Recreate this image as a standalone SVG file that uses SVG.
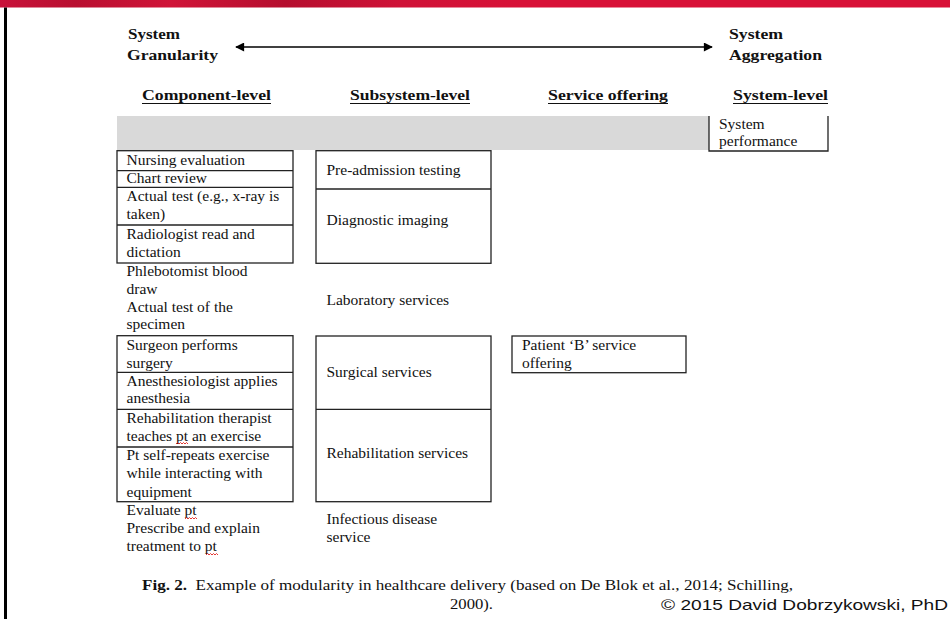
<svg xmlns="http://www.w3.org/2000/svg" width="950" height="619" viewBox="0 0 950 619">
  <defs>
    <linearGradient id="banner" x1="0" y1="0" x2="1" y2="0">
      <stop offset="0" stop-color="#c8123a"/>
      <stop offset="0.08" stop-color="#b90f30"/>
      <stop offset="0.18" stop-color="#d01438"/>
      <stop offset="0.3" stop-color="#b50e2e"/>
      <stop offset="0.42" stop-color="#cf1237"/>
      <stop offset="0.55" stop-color="#d81137"/>
      <stop offset="1" stop-color="#d81137"/>
    </linearGradient>
    <marker id="head" viewBox="0 0 10 10" refX="9" refY="5" markerWidth="10" markerHeight="9" markerUnits="userSpaceOnUse" orient="auto-start-reverse">
      <path d="M0,0 L10,5 L0,10 Z" fill="#000"/>
    </marker>
    <style>
      .t { font-family: "Liberation Serif", "Times New Roman", serif; font-size: 15.5px; fill: #111; }
      .h { font-family: "Liberation Serif", "Times New Roman", serif; font-size: 15.5px; font-weight: bold; fill: #111; }
      .u { stroke: #111; stroke-width: 1.2; }
      .box { fill: none; stroke: #222; stroke-width: 1.3; }
      .sep { stroke: #222; stroke-width: 1.3; }
      .squig { fill: none; stroke: #e0201c; stroke-width: 0.9; }
      .cap { font-family: "Liberation Serif", "Times New Roman", serif; font-size: 14.5px; fill: #111; }
    </style>
  </defs>

  <rect width="950" height="619" fill="#fff"/>
  <!-- top banner and left rule -->
  <rect x="0" y="0" width="950" height="7.5" fill="url(#banner)"/>
  <rect x="4" y="7.5" width="3" height="612" fill="#000"/>

  <!-- scale axis labels -->
  <g id="granularity">
    <text class="h" x="128" y="38.5" textLength="52" lengthAdjust="spacingAndGlyphs">System</text>
    <text class="h" x="127" y="60" textLength="91" lengthAdjust="spacingAndGlyphs">Granularity</text>
  </g>
  <g id="aggregation">
    <text class="h" x="729" y="38.5" textLength="54" lengthAdjust="spacingAndGlyphs">System</text>
    <text class="h" x="729" y="60" textLength="93" lengthAdjust="spacingAndGlyphs">Aggregation</text>
  </g>

  <g id="connectors">
    <line x1="236" y1="47" x2="712" y2="47" stroke="#000" stroke-width="1.5" marker-start="url(#head)" marker-end="url(#head)"/>
  </g>

  <!-- column headings -->
  <g id="col-headers">
    <text class="h" x="142" y="100" textLength="129" lengthAdjust="spacingAndGlyphs">Component-level</text>
    <line class="u" x1="142" y1="103.5" x2="271" y2="103.5"/>
    <text class="h" x="350" y="100" textLength="120" lengthAdjust="spacingAndGlyphs">Subsystem-level</text>
    <line class="u" x1="350" y1="103.5" x2="470" y2="103.5"/>
    <text class="h" x="548" y="100" textLength="120" lengthAdjust="spacingAndGlyphs">Service offering</text>
    <line class="u" x1="548" y1="103.5" x2="668" y2="103.5"/>
    <text class="h" x="733" y="100" textLength="95" lengthAdjust="spacingAndGlyphs">System-level</text>
    <line class="u" x1="733" y1="103.5" x2="828" y2="103.5"/>
  </g>

  <!-- shaded band -->
  <rect x="117" y="116" width="592" height="34" fill="#d9d9d9"/>

  <g id="system-performance">
    <path class="box" d="M709,116 V151 H828 V116"/>
    <text class="t" x="719" y="128.5">System</text>
    <text class="t" x="719" y="146">performance</text>
  </g>

  <!-- component-level: diagnostics block -->
  <g id="components-diagnostics">
    <rect class="box" x="117" y="150.7" width="176" height="112.3"/>
    <line class="sep" x1="117" y1="170.7" x2="293" y2="170.7"/>
    <line class="sep" x1="117" y1="187.3" x2="293" y2="187.3"/>
    <line class="sep" x1="117" y1="225" x2="293" y2="225"/>
    <text class="t" x="126.5" y="165">Nursing evaluation</text>
    <text class="t" x="126.5" y="183">Chart review</text>
    <text class="t" x="126.5" y="200.7">Actual test (e.g., x-ray is</text>
    <text class="t" x="126.5" y="218.5">taken)</text>
    <text class="t" x="126.5" y="238.5">Radiologist read and</text>
    <text class="t" x="126.5" y="256.5">dictation</text>
  </g>

  <g id="components-lab">
    <text class="t" x="126.5" y="276">Phlebotomist blood</text>
    <text class="t" x="126.5" y="293.7">draw</text>
    <text class="t" x="126.5" y="311.7">Actual test of the</text>
    <text class="t" x="126.5" y="329.3">specimen</text>
  </g>

  <!-- component-level: surgical / rehab block -->
  <g id="components-surgical">
    <rect class="box" x="117" y="335.7" width="176" height="166"/>
    <line class="sep" x1="117" y1="372.3" x2="293" y2="372.3"/>
    <line class="sep" x1="117" y1="409.3" x2="293" y2="409.3"/>
    <line class="sep" x1="117" y1="447" x2="293" y2="447"/>
    <text class="t" x="126.5" y="350">Surgeon performs</text>
    <text class="t" x="126.5" y="367.7">surgery</text>
    <text class="t" x="126.5" y="385.7">Anesthesiologist applies</text>
    <text class="t" x="126.5" y="403.3">anesthesia</text>
    <text class="t" x="126.5" y="422.7">Rehabilitation therapist</text>
    <text class="t" x="126.5" y="440.7">teaches pt an exercise</text>
    <text class="t" x="126.5" y="460">Pt self-repeats exercise</text>
    <text class="t" x="126.5" y="478.3">while interacting with</text>
    <text class="t" x="126.5" y="496.7">equipment</text>
    <path class="squig" d="M176,444 l1.5,-1.5 l1.5,1.5 l1.5,-1.5 l1.5,1.5 l1.5,-1.5 l1.5,1.5 l1.5,-1.5 l1.5,1.5"/>
  </g>

  <g id="components-infectious">
    <text class="t" x="126.5" y="515">Evaluate pt</text>
    <text class="t" x="126.5" y="532.7">Prescribe and explain</text>
    <text class="t" x="126.5" y="550.7">treatment to pt</text>
    <path class="squig" d="M185,519 l1.5,-1.5 l1.5,1.5 l1.5,-1.5 l1.5,1.5 l1.5,-1.5 l1.5,1.5 l1.5,-1.5 l1.5,1.5"/>
    <path class="squig" d="M206,555 l1.5,-1.5 l1.5,1.5 l1.5,-1.5 l1.5,1.5 l1.5,-1.5 l1.5,1.5 l1.5,-1.5 l1.5,1.5"/>
  </g>

  <!-- subsystem-level -->
  <g id="subsystems-diagnostics">
    <rect class="box" x="316" y="150.7" width="175" height="112.6"/>
    <line class="sep" x1="316" y1="189" x2="491" y2="189"/>
    <text class="t" x="326.5" y="175">Pre-admission testing</text>
    <text class="t" x="326.5" y="225">Diagnostic imaging</text>
  </g>

  <g id="subsystem-lab">
    <text class="t" x="326.5" y="305">Laboratory services</text>
  </g>

  <g id="subsystems-surgical">
    <rect class="box" x="316" y="336" width="175" height="165.7"/>
    <line class="sep" x1="316" y1="409.3" x2="491" y2="409.3"/>
    <text class="t" x="326.5" y="376.7">Surgical services</text>
    <text class="t" x="326.5" y="458.3">Rehabilitation services</text>
  </g>

  <g id="subsystem-infectious">
    <text class="t" x="326.5" y="524">Infectious disease</text>
    <text class="t" x="326.5" y="541.7">service</text>
  </g>

  <!-- service offering -->
  <g id="service-offering">
    <rect class="box" x="512" y="336" width="174" height="36.7"/>
    <text class="t" x="522" y="350">Patient ‘B’ service</text>
    <text class="t" x="522" y="367.7">offering</text>
  </g>

  <!-- caption -->
  <g id="caption">
    <text class="cap" x="142" y="590" textLength="651" lengthAdjust="spacingAndGlyphs"><tspan font-weight="bold">Fig. 2.</tspan>&#160; Example of modularity in healthcare delivery (based on De Blok et al., 2014; Schilling,</text>
    <text class="cap" x="450" y="609" textLength="43" lengthAdjust="spacingAndGlyphs">2000).</text>
  </g>

  <text x="661" y="610" font-family="'Liberation Sans', Arial, sans-serif" font-size="15" fill="#111" textLength="287" lengthAdjust="spacingAndGlyphs">© 2015 David Dobrzykowski, PhD</text>
</svg>
